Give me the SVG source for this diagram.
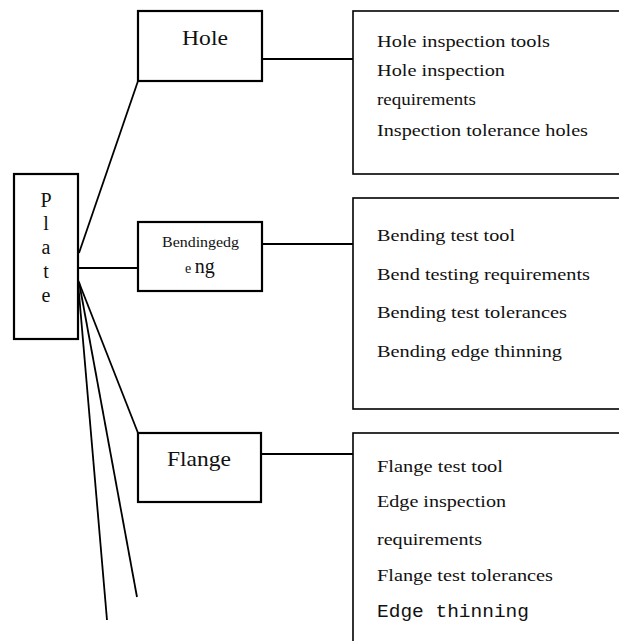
<svg xmlns="http://www.w3.org/2000/svg" width="619" height="641" viewBox="0 0 619 641">
<style>
.box{fill:#fff;stroke:#000;stroke-width:2.2}
.rbox{fill:#fff;stroke:#000;stroke-width:1.6}
.con{fill:none;stroke:#000;stroke-width:1.8}
text{font-family:"Liberation Serif","Times New Roman",serif;fill:#111}
.lbl{font-size:22px}
.pl{font-size:20px}
.item{font-size:17px}
.mono{font-family:"Liberation Mono","Courier New",monospace;font-size:19px}
</style>
<rect width="619" height="641" fill="#fff"/>
<g id="connectors">
<line class="con" x1="79" y1="253" x2="138" y2="81"/>
<line class="con" x1="78" y1="268" x2="138" y2="268"/>
<line class="con" x1="78" y1="280" x2="138" y2="433"/>
<line class="con" x1="79" y1="282" x2="137" y2="597"/>
<line class="con" x1="78" y1="282" x2="107" y2="620"/>
<line class="con" x1="262" y1="59" x2="353" y2="59"/>
<line class="con" x1="262" y1="244" x2="353" y2="244"/>
<line class="con" x1="261" y1="454" x2="353" y2="454"/>
</g>
<g id="plate">
<rect class="box" x="14" y="174" width="64" height="165"/>
<text class="pl" x="46" y="207" text-anchor="middle">P</text>
<text class="pl" x="46" y="230" text-anchor="middle">l</text>
<text class="pl" x="46" y="254" text-anchor="middle">a</text>
<text class="pl" x="46" y="278" text-anchor="middle">t</text>
<text class="pl" x="46" y="302" text-anchor="middle">e</text>
</g>
<g id="hole">
<rect class="box" x="138" y="11" width="124" height="70"/>
<text class="lbl" x="182" y="45" textLength="46" lengthAdjust="spacingAndGlyphs">Hole</text>
</g>
<g id="bendingedge">
<rect class="box" x="138" y="222" width="124" height="69"/>
<text x="162" y="247" style="font-size:14px" textLength="77" lengthAdjust="spacingAndGlyphs">Bendingedg</text>
<text x="185" y="273"><tspan style="font-size:14px">e </tspan><tspan style="font-size:20px">ng</tspan></text>
</g>
<g id="flange">
<rect class="box" x="138" y="433" width="123" height="69"/>
<text class="lbl" x="167" y="466" textLength="64" lengthAdjust="spacingAndGlyphs">Flange</text>
</g>
<g id="hole-details">
<rect class="rbox" x="353" y="11" width="280" height="163"/>
<text class="item" x="377" y="47" textLength="173" lengthAdjust="spacingAndGlyphs">Hole inspection tools</text>
<text class="item" x="377" y="76" textLength="128" lengthAdjust="spacingAndGlyphs">Hole inspection</text>
<text class="item" x="377" y="105" textLength="99" lengthAdjust="spacingAndGlyphs">requirements</text>
<text class="item" x="377" y="136" textLength="211" lengthAdjust="spacingAndGlyphs">Inspection tolerance holes</text>
</g>
<g id="bending-details">
<rect class="rbox" x="353" y="198" width="280" height="211"/>
<text class="item" x="377" y="241" textLength="138" lengthAdjust="spacingAndGlyphs">Bending test tool</text>
<text class="item" x="377" y="280" textLength="213" lengthAdjust="spacingAndGlyphs">Bend testing requirements</text>
<text class="item" x="377" y="318" textLength="190" lengthAdjust="spacingAndGlyphs">Bending test tolerances</text>
<text class="item" x="377" y="357" textLength="185" lengthAdjust="spacingAndGlyphs">Bending edge thinning</text>
</g>
<g id="flange-details">
<rect class="rbox" x="353" y="433" width="280" height="230"/>
<text class="item" x="377" y="472" textLength="126" lengthAdjust="spacingAndGlyphs">Flange test tool</text>
<text class="item" x="377" y="507" textLength="129" lengthAdjust="spacingAndGlyphs">Edge inspection</text>
<text class="item" x="377" y="545" textLength="105" lengthAdjust="spacingAndGlyphs">requirements</text>
<text class="item" x="377" y="581" textLength="176" lengthAdjust="spacingAndGlyphs">Flange test tolerances</text>
<text class="mono" x="377" y="617" textLength="152" lengthAdjust="spacingAndGlyphs">Edge thinning</text>
</g>
</svg>
